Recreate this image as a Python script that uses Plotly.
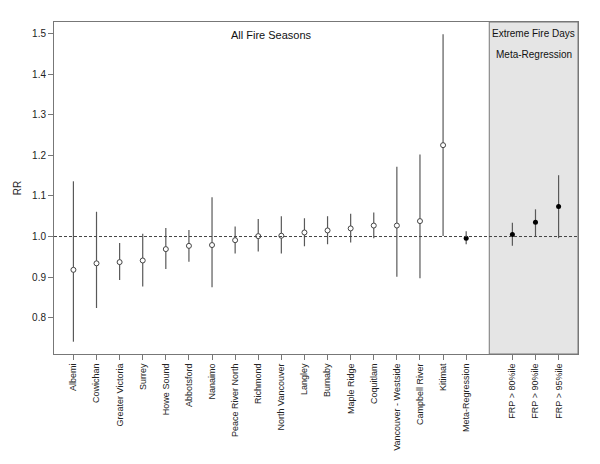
import plotly.graph_objects as go

regions = ["Albemi", "Cowichan", "Greater Victoria", "Surrey", "Howe Sound", "Abbotsford",
           "Nanaimo", "Peace River North", "Richmond", "North Vancouver", "Langley", "Burnaby",
           "Maple Ridge", "Coquitlam", "Vancouver - Westside", "Campbell River", "Kitimat"]
rr = [0.918, 0.934, 0.937, 0.941, 0.969, 0.977, 0.979, 0.991, 1.001, 1.002, 1.010, 1.015,
      1.020, 1.027, 1.027, 1.038, 1.225]
lo = [0.741, 0.824, 0.893, 0.877, 0.920, 0.938, 0.875, 0.958, 0.963, 0.958, 0.976, 0.981,
      0.985, 0.996, 0.901, 0.897, 1.001]
hi = [1.136, 1.061, 0.984, 1.007, 1.021, 1.016, 1.097, 1.025, 1.043, 1.050, 1.045, 1.050,
      1.056, 1.059, 1.172, 1.202, 1.498]

meta_label = ["Meta-Regression"]
meta_rr = [0.996]
meta_lo = [0.981]
meta_hi = [1.013]

frp_labels = ["FRP > 80%ile", "FRP > 90%ile", "FRP > 95%ile"]
frp_rr = [1.005, 1.035, 1.074]
frp_lo = [0.977, 0.999, 0.996]
frp_hi = [1.034, 1.067, 1.151]

y_ticks = [0.8, 0.9, 1.0, 1.1, 1.2, 1.3, 1.4, 1.5]

x_reg = list(range(1, len(regions) + 1))
x_meta = [len(regions) + 1]
x_frp = [len(regions) + 3 + i for i in range(len(frp_labels))]

all_x = x_reg + x_meta + x_frp
all_lab = regions + meta_label + frp_labels
xmin, xmax = min(all_x), max(all_x)
pad = (xmax - xmin) * 0.04
xr = [xmin - pad, xmax + pad]
ymin = min(lo + meta_lo + frp_lo)
ymax = max(hi + meta_hi + frp_hi)
ypad = (ymax - ymin) * 0.04
yr = [ymin - ypad, ymax + ypad]

LINE = "#595959"
FONT = "Liberation Sans, Arial, sans-serif"
TXT = "#222222"

def err(v, l, h):
    return dict(type="data", symmetric=False,
                array=[b - a for a, b in zip(v, h)],
                arrayminus=[a - b for a, b in zip(v, l)],
                color=LINE, thickness=1.2, width=0)

fig = go.Figure()
fig.add_trace(go.Scatter(x=x_reg, y=rr, mode="markers", error_y=err(rr, lo, hi),
                         marker=dict(symbol="circle", size=5, color="white",
                                     line=dict(color="#444444", width=1)),
                         showlegend=False))
fig.add_trace(go.Scatter(x=x_meta, y=meta_rr, mode="markers", error_y=err(meta_rr, meta_lo, meta_hi),
                         marker=dict(symbol="circle", size=5, color="black"), showlegend=False))
fig.add_trace(go.Scatter(x=x_frp, y=frp_rr, mode="markers", error_y=err(frp_rr, frp_lo, frp_hi),
                         marker=dict(symbol="circle", size=5, color="black"), showlegend=False))

fig.add_shape(type="rect", xref="x", yref="paper", x0=x_frp[0] - 1, x1=xr[1], y0=0, y1=1,
              fillcolor="#e5e5e5", line=dict(color="#777777", width=1), layer="below")
fig.add_shape(type="line", xref="paper", yref="y", x0=0, x1=1, y0=1.0, y1=1.0,
              line=dict(color="#444444", width=1, dash="3px,2px"))

fig.add_annotation(x=(xr[0] + x_frp[0] - 1) / 2, y=1.0, xref="x", yref="paper",
                   yshift=-5, yanchor="top", showarrow=False, text="All Fire Seasons",
                   font=dict(size=11, color="#111111", family=FONT))
cx = (x_frp[0] - 1 + xr[1]) / 2
fig.add_annotation(x=cx, y=1.0, xref="x", yref="paper", yshift=-4, yanchor="top",
                   showarrow=False, text="Extreme Fire Days",
                   font=dict(size=10, color="#111111", family=FONT))
fig.add_annotation(x=cx, y=1.0, xref="x", yref="paper", yshift=-25, yanchor="top",
                   showarrow=False, text="Meta-Regression",
                   font=dict(size=10, color="#111111", family=FONT))

# page body has an 8px default margin, so shift the plot area by -8px
fig.update_layout(
    width=600, height=464,
    margin=dict(l=46, r=30, t=14, b=118),
    paper_bgcolor="white", plot_bgcolor="white",
    font=dict(family=FONT, color=TXT),
)
fig.update_xaxes(range=xr, tickmode="array", tickvals=all_x, ticktext=all_lab,
                 tickangle=-90, ticks="outside", ticklen=5, tickcolor="#777777",
                 showline=True, linecolor="#777777", mirror=True, showgrid=False,
                 zeroline=False, automargin=False,
                 tickfont=dict(size=9, family=FONT, color=TXT))
fig.update_yaxes(range=yr, tickmode="array", tickvals=y_ticks,
                 ticktext=[f"{v:.1f}" for v in y_ticks],
                 ticks="outside", ticklen=5, tickcolor="#777777",
                 showline=True, linecolor="#777777", mirror=True, showgrid=False,
                 zeroline=False, automargin=False,
                 tickfont=dict(size=10, family=FONT, color=TXT),
                 title=dict(text="RR", font=dict(size=10, family=FONT, color=TXT), standoff=8))

fig.write_html("out.html")
